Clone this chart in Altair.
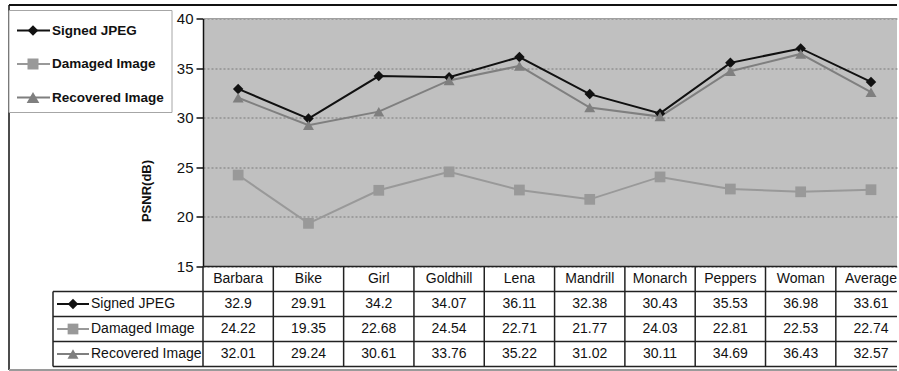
import altair as alt
import pandas as pd

categories = ["Barbara", "Bike", "Girl", "Goldhill", "Lena", "Mandrill",
              "Monarch", "Peppers", "Woman", "Average"]
series = ["Signed JPEG", "Damaged Image", "Recovered Image"]
signed = [32.9, 29.91, 34.2, 34.07, 36.11, 32.38, 30.43, 35.53, 36.98, 33.61]
damaged = [24.22, 19.35, 22.68, 24.54, 22.71, 21.77, 24.03, 22.81, 22.53, 22.74]
recovered = [32.01, 29.24, 30.61, 33.76, 35.22, 31.02, 30.11, 34.69, 36.43, 32.57]
y_ticks = [15, 20, 25, 30, 35, 40]
y_title = "PSNR(dB)"

colors = ["#111111", "#999999", "#7f7f7f"]
shapes = ["diamond", "square", "triangle-up"]
sizes = [110, 121, 160]

FONT = "Liberation Sans"
W, H, TH = 694, 248, 100

rows = []
for s, vals in zip(series, [signed, damaged, recovered]):
    for i, (c, v) in enumerate(zip(categories, vals)):
        rows.append({"series": s, "category": c, "idx": i, "value": v, "label": str(v)})
df = pd.DataFrame(rows)
one = pd.DataFrame({"k": [0]})

xs = alt.Scale(domain=[-0.5, len(categories) - 0.63], nice=False, zero=False)
cs = alt.Scale(domain=series, range=colors)
ss = alt.Scale(domain=series, range=shapes)
zs = alt.Scale(domain=series, range=sizes)

x_enc = alt.X("idx:Q", scale=xs, axis=None)
y_enc = alt.Y(
    "value:Q",
    scale=alt.Scale(domain=[15, 40], nice=False, zero=False),
    axis=alt.Axis(
        values=y_ticks, title=y_title, grid=True, gridColor="#7a7a7a",
        gridDash=[2, 2], gridWidth=1, domainColor="#111", domainWidth=1.5,
        tickColor="#111", tickSize=7, tickWidth=1.5, labelFont=FONT,
        labelFontSize=15, labelColor="#111", labelPadding=3,
        titleFont=FONT, titleFontSize=13, titleFontWeight="bold",
        titleColor="#111", titleX=-57, titleY=172, titleAngle=-90,
        titleBaseline="middle", titleAlign="center",
    ),
)

lines = alt.Chart(df).mark_line(strokeWidth=2).encode(
    x=x_enc, y=y_enc, color=alt.Color("series:N", scale=cs, legend=None))
points = alt.Chart(df).mark_point(filled=True, opacity=1).encode(
    x=x_enc, y=y_enc,
    color=alt.Color("series:N", scale=cs, legend=None),
    shape=alt.Shape("series:N", scale=ss, legend=None),
    size=alt.Size("series:N", scale=zs, legend=None),
)

top_border = alt.Chart(one).mark_rule(color="#a0a0a0", strokeWidth=1).encode(
    x=alt.value(0), x2=alt.value(W), y=alt.value(0))

# outer frame
frame_top = alt.Chart(one).mark_rule(color="#111", strokeWidth=2).encode(
    x=alt.value(-194), x2=alt.value(W), y=alt.value(-13.5))
frame_left = alt.Chart(one).mark_rule(color="#111", strokeWidth=1.5).encode(
    x=alt.value(-194), y=alt.value(-13.5), y2=alt.value(H + TH + 3.5))
frame_bottom = alt.Chart(one).mark_rule(color="#9a9a9a", strokeWidth=2).encode(
    x=alt.value(-194), x2=alt.value(W), y=alt.value(H + TH + 3.5))

# legend box
legend_layers = [alt.Chart(one).mark_rect(fill="white", stroke="#a6a6a6", strokeWidth=1).encode(
    x=alt.value(-194), x2=alt.value(-31), y=alt.value(-8), y2=alt.value(94))]
for i, s in enumerate(series):
    yv = 12 + i * 33.5
    legend_layers.append(alt.Chart(one).mark_rule(color=colors[i], strokeWidth=2).encode(
        x=alt.value(-186), x2=alt.value(-153), y=alt.value(yv)))
    legend_layers.append(alt.Chart(one).mark_point(
        shape=shapes[i], filled=True, size=sizes[i], color=colors[i], opacity=1).encode(
        x=alt.value(-170), y=alt.value(yv)))
    legend_layers.append(alt.Chart(one).mark_text(
        text=s, align="left", baseline="middle", font=FONT, fontSize=13.5,
        fontWeight="bold", color="#111").encode(x=alt.value(-151), y=alt.value(yv)))

top = alt.layer(lines, points, top_border, frame_top, frame_left, frame_bottom,
                *legend_layers).properties(
    width=W, height=H, view=alt.ViewBackground(fill="#c0c0c0", stroke=None))

# table
row_domain = ["header"] + series
header = pd.DataFrame({"row": ["header"] * len(categories),
                       "idx": list(range(len(categories))), "label": categories})
cells = pd.concat([header, df[["series", "idx", "label"]].rename(columns={"series": "row"})],
                  ignore_index=True)
ys = alt.Scale(domain=row_domain, paddingInner=0, paddingOuter=0)
key = pd.DataFrame({"row": series})

t_text = alt.Chart(cells).mark_text(font=FONT, fontSize=14, color="#111", baseline="middle").encode(
    x=alt.X("idx:Q", scale=xs, axis=None),
    y=alt.Y("row:N", scale=ys, axis=None),
    text="label:N")

bounds_df = pd.DataFrame({"b": [i - 0.5 for i in range(len(categories))]})
t_vrules = alt.Chart(bounds_df).mark_rule(color="#222", strokeWidth=1.5).encode(
    x=alt.X("b:Q", scale=xs, axis=None), y=alt.value(0), y2=alt.value(TH))
t_keyleft = alt.Chart(one).mark_rule(color="#222", strokeWidth=1.5).encode(
    x=alt.value(-150), y=alt.value(TH / 4), y2=alt.value(TH))
t_head = alt.Chart(one).mark_rule(color="#222", strokeWidth=1.5).encode(
    x=alt.value(0), x2=alt.value(W), y=alt.value(0))
t_hrules = alt.Chart(key).mark_rule(color="#222", strokeWidth=1.5).encode(
    x=alt.value(-150), x2=alt.value(W),
    y=alt.Y("row:N", scale=ys, axis=None, bandPosition=0))
t_bottom = alt.Chart(one).mark_rule(color="#222", strokeWidth=1.5).encode(
    x=alt.value(-150), x2=alt.value(W), y=alt.value(TH))

k_line = alt.Chart(key).mark_rule(strokeWidth=2).encode(
    x=alt.value(-146), x2=alt.value(-114),
    y=alt.Y("row:N", scale=ys, axis=None, bandPosition=0.5),
    color=alt.Color("row:N", scale=cs, legend=None))
k_point = alt.Chart(key).mark_point(filled=True, opacity=1).encode(
    x=alt.value(-130),
    y=alt.Y("row:N", scale=ys, axis=None),
    color=alt.Color("row:N", scale=cs, legend=None),
    shape=alt.Shape("row:N", scale=ss, legend=None),
    size=alt.Size("row:N", scale=zs, legend=None))
k_text = alt.Chart(key).mark_text(align="left", baseline="middle", font=FONT,
                                  fontSize=14, color="#111").encode(
    x=alt.value(-112), y=alt.Y("row:N", scale=ys, axis=None), text="row:N")

table = alt.layer(t_text, t_vrules, t_keyleft, t_head, t_hrules, t_bottom,
                  k_line, k_point, k_text).properties(
    width=W, height=TH, view=alt.ViewBackground(fill=None, stroke=None))

chart = alt.vconcat(top, table, spacing=0, bounds="flush").resolve_scale(
    y="independent").properties(
    padding={"left": 8, "top": 3.5, "right": 0, "bottom": 0},
    background="white",
).configure_view(stroke=None)

chart.save("out.html", embed_options={"renderer": "svg", "actions": False})
